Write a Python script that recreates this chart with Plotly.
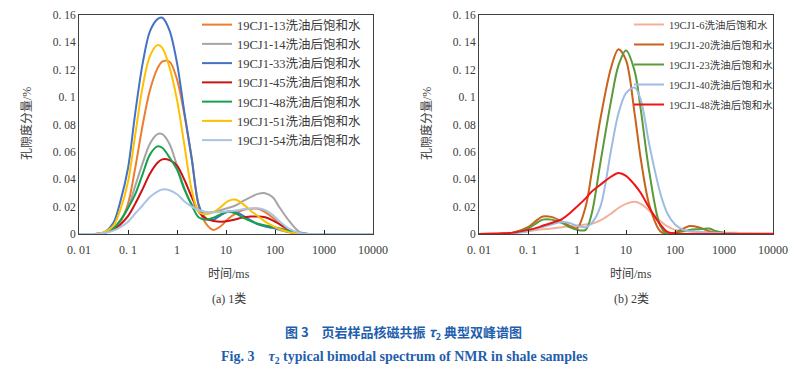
import plotly.graph_objects as go

# page is 806x380; the html body keeps an 8px margin, so the figure is sized to fit inside it
OFF = 8
W, H = 806 - 2 * OFF, 380 - 2 * OFF

# ---------------- data ----------------
# panel (a): T2 (ms) grid and porosity components (%)
t_a = [0.01, 0.02, 0.03, 0.05, 0.07, 0.1, 0.14, 0.2, 0.28, 0.4, 0.5, 0.7, 1, 1.4, 2, 2.8,
       4, 5.6, 8, 11, 16, 22, 32, 45, 63, 89, 126, 200, 316, 500, 1000, 10000]
a_13 = [0, 0, 0.0005, 0.004, 0.009, 0.022, 0.048, 0.08, 0.105, 0.121, 0.126, 0.126, 0.113, 0.088, 0.055, 0.02,
        0.007, 0.003, 0.006, 0.011, 0.015, 0.0175, 0.0185, 0.0185, 0.016, 0.012, 0.007, 0.002, 0.0003, 0, 0, 0]
a_14 = [0, 0, 0.0005, 0.004, 0.01, 0.019, 0.035, 0.052, 0.066, 0.073, 0.073, 0.066, 0.05, 0.034, 0.022, 0.017,
        0.0155, 0.016, 0.0175, 0.019, 0.021, 0.024, 0.027, 0.0293, 0.0298, 0.027, 0.019, 0.009, 0.0015, 0, 0, 0]
a_33 = [0, 0, 0.0005, 0.008, 0.024, 0.048, 0.088, 0.125, 0.148, 0.157, 0.158, 0.149, 0.125, 0.09, 0.055, 0.021,
        0.011, 0.0105, 0.014, 0.0165, 0.016, 0.0135, 0.01, 0.007, 0.0055, 0.0045, 0.003, 0.0013, 0.0003, 0, 0, 0]
a_45 = [0, 0, 0.0005, 0.003, 0.007, 0.013, 0.022, 0.033, 0.044, 0.052, 0.0545, 0.054, 0.05, 0.04, 0.027, 0.016,
        0.011, 0.0095, 0.009, 0.0095, 0.0108, 0.012, 0.0127, 0.0128, 0.0122, 0.01, 0.007, 0.003, 0.0006, 0, 0, 0]
a_48 = [0, 0, 0.0005, 0.004, 0.01, 0.019, 0.029, 0.044, 0.058, 0.064, 0.063, 0.056, 0.047, 0.033, 0.021, 0.012,
        0.0105, 0.012, 0.0145, 0.0162, 0.015, 0.012, 0.0095, 0.0075, 0.0062, 0.0052, 0.004, 0.002, 0.0005, 0, 0, 0]
a_51 = [0, 0, 0.001, 0.006, 0.018, 0.038, 0.072, 0.108, 0.13, 0.138, 0.136, 0.122, 0.098, 0.066, 0.032, 0.016,
        0.0145, 0.016, 0.02, 0.024, 0.025, 0.022, 0.017, 0.013, 0.009, 0.006, 0.0035, 0.0012, 0.0002, 0, 0, 0]
a_54 = [0, 0, 0.0005, 0.0025, 0.005, 0.009, 0.015, 0.021, 0.027, 0.031, 0.0325, 0.032, 0.029, 0.024, 0.02, 0.0175,
        0.016, 0.0158, 0.016, 0.0165, 0.0172, 0.018, 0.0187, 0.0188, 0.0175, 0.014, 0.009, 0.0035, 0.0008, 0, 0, 0]

# panel (b)
t_b = [0.01, 0.03, 0.05, 0.1, 0.15, 0.2, 0.3, 0.5, 0.7, 1, 1.5, 2, 3, 5, 7, 10, 15, 20, 30, 50,
       70, 100, 150, 200, 300, 500, 700, 1000, 2000, 10000]
b_6 = [0, 0.0005, 0.001, 0.002, 0.003, 0.0035, 0.004, 0.005, 0.0055, 0.006, 0.007, 0.0075, 0.01, 0.015, 0.019,
       0.022, 0.0235, 0.022, 0.017, 0.0095, 0.0055, 0.003, 0.0025, 0.002, 0.0015, 0.0012, 0.001, 0.001, 0.0008, 0.0005]
b_20 = [0, 0, 0.001, 0.005, 0.01, 0.0128, 0.0125, 0.009, 0.006, 0.0042, 0.02, 0.045, 0.084, 0.122, 0.135,
        0.127, 0.088, 0.055, 0.021, 0.002, 0, 0.001, 0.004, 0.0058, 0.005, 0.002, 0.001, 0.0005, 0, 0]
b_23 = [0, 0, 0.001, 0.004, 0.008, 0.0105, 0.0105, 0.008, 0.005, 0.003, 0.003, 0.015, 0.052, 0.098, 0.123,
        0.134, 0.119, 0.091, 0.045, 0.006, 0, 0.001, 0.002, 0.003, 0.0035, 0.004, 0.002, 0.001, 0, 0]
b_40 = [0, 0, 0.0005, 0.002, 0.004, 0.005, 0.007, 0.0088, 0.008, 0.006, 0.005, 0.008, 0.02, 0.062, 0.088,
        0.103, 0.107, 0.098, 0.065, 0.03, 0.015, 0.007, 0.003, 0.002, 0.0015, 0.001, 0.0008, 0.0005, 0.0002, 0]
b_48 = [0, 0.0005, 0.001, 0.003, 0.0045, 0.006, 0.008, 0.011, 0.015, 0.02, 0.026, 0.031, 0.036, 0.042, 0.0445,
        0.0425, 0.036, 0.03, 0.019, 0.007, 0.0015, 0.0005, 0, 0, 0, 0, 0, 0, 0, 0]

names_a = ["19CJ1-13洗油后饱和水", "19CJ1-14洗油后饱和水", "19CJ1-33洗油后饱和水", "19CJ1-45洗油后饱和水",
           "19CJ1-48洗油后饱和水", "19CJ1-51洗油后饱和水", "19CJ1-54洗油后饱和水"]
names_b = ["19CJ1-6洗油后饱和水", "19CJ1-20洗油后饱和水", "19CJ1-23洗油后饱和水",
           "19CJ1-40洗油后饱和水", "19CJ1-48洗油后饱和水"]
x_ticks = [0.01, 0.1, 1, 10, 100, 1000, 10000]
x_ticktext = ["0. 01", "0. 1", "1", "10", "100", "1000", "10000"]
y_ticks = [0, 0.02, 0.04, 0.06, 0.08, 0.1, 0.12, 0.14, 0.16]
y_ticktext = ["0", "0. 02", "0. 04", "0. 06", "0. 08", "0. 1", "0. 12", "0. 14", "0. 16"]

# ---------------- styling ----------------
colors_a = ["#ED7D31", "#A5A5A5", "#4472C4", "#CC1414", "#14A04C", "#FFC000", "#A9C4E5"]
colors_b = ["#F2B197", "#C8621C", "#5A9A38", "#9DBCE4", "#F01414"]
FONT = "Liberation Serif, Noto Sans CJK SC, serif"
TXT = "#3a3a3a"


def px_x(x):
    """page pixel x -> paper fraction"""
    return (x - OFF) / W


def px_y(y):
    """page pixel y -> paper fraction"""
    return 1 - (y - OFF) / H


fig = go.Figure()
for i, (y, n, c) in enumerate(zip([a_13, a_14, a_33, a_45, a_48, a_51, a_54], names_a, colors_a)):
    fig.add_trace(go.Scatter(x=t_a, y=y, name=n, mode="lines", legendgroup=f"a{i}",
                             line=dict(color=c, width=2, shape="spline", smoothing=0.9),
                             xaxis="x", yaxis="y", legend="legend"))
for i, (y, n, c) in enumerate(zip([b_6, b_20, b_23, b_40, b_48], names_b, colors_b)):
    fig.add_trace(go.Scatter(x=t_b, y=y, name=n, mode="lines", legendgroup=f"b{i}",
                             line=dict(color=c, width=2, shape="spline", smoothing=0.9),
                             xaxis="x2", yaxis="y2", legend="legend2"))

xax = dict(type="log", range=[-2, 4], tickvals=x_ticks, ticktext=x_ticktext, ticks="inside", ticklen=4,
           tickcolor="#222", showline=True, linecolor="#404040", linewidth=1, mirror=True, showgrid=False,
           zeroline=False, automargin=False, ticklabelstandoff=5, ticklabeloverflow="allow",
           tickfont=dict(family=FONT, size=12, color=TXT))
yax = dict(range=[0, 0.16], tickvals=y_ticks, ticktext=y_ticktext, ticks="", showline=True, linecolor="#404040",
           linewidth=1, mirror=True, showgrid=False, zeroline=False, ticklabelstandoff=0, automargin=False,
           ticklabeloverflow="allow", tickfont=dict(family=FONT, size=11.5, color=TXT))

ydom = [px_y(234), px_y(15)]
fig.update_layout(
    width=W, height=H, margin=dict(l=0, r=0, t=0, b=0, autoexpand=False),
    paper_bgcolor="white", plot_bgcolor="white",
    xaxis=dict(xax, domain=[px_x(79), px_x(373)], anchor="y"),
    yaxis=dict(yax, domain=ydom, anchor="x"),
    xaxis2=dict(xax, domain=[px_x(479), px_x(773)], anchor="y2"),
    yaxis2=dict(yax, domain=ydom, anchor="x2"),
    legend=dict(x=px_x(197), y=px_y(10), xanchor="left", yanchor="top", bgcolor="rgba(0,0,0,0)",
                font=dict(family=FONT, size=12.5, color=TXT), tracegroupgap=0),
    legend2=dict(x=px_x(629), y=px_y(10), xanchor="left", yanchor="top", bgcolor="rgba(0,0,0,0)",
                 font=dict(family=FONT, size=10.5, color=TXT), tracegroupgap=1),
    showlegend=True,
)

ann = []
for xc in (27, 427):
    ann.append(dict(text="孔隙度分量/%", x=px_x(xc), y=px_y(124), xref="paper", yref="paper", showarrow=False,
                    xanchor="center", yanchor="middle", textangle=-90, font=dict(family=FONT, size=12, color=TXT)))
for xc, lab in ((229, "(a) 1类"), (631, "(b) 2类")):
    ann.append(dict(text="时间/ms", x=px_x(xc), y=px_y(274), xref="paper", yref="paper", showarrow=False,
                    xanchor="center", yanchor="middle", font=dict(family=FONT, size=12, color=TXT)))
    ann.append(dict(text=lab, x=px_x(xc), y=px_y(299), xref="paper", yref="paper", showarrow=False,
                    xanchor="center", yanchor="middle", font=dict(family=FONT, size=12, color=TXT)))
ann.append(dict(text="<b>图 3　页岩样品核磁共振 <i>τ</i><sub>2</sub> 典型双峰谱图</b>", x=px_x(403), y=px_y(332),
                xref="paper", yref="paper", showarrow=False, xanchor="center", yanchor="middle",
                font=dict(family="Noto Sans CJK SC, sans-serif", size=13, color="#1F5FAD")))
ann.append(dict(text="<b>Fig. 3　<i>τ</i><sub>2</sub> typical bimodal spectrum of NMR in shale samples</b>",
                x=px_x(404), y=px_y(357), xref="paper", yref="paper", showarrow=False,
                xanchor="center", yanchor="middle",
                font=dict(family="Liberation Serif, serif", size=14, color="#1F5FAD")))
fig.update_layout(annotations=ann)

fig.write_html("out.html")
